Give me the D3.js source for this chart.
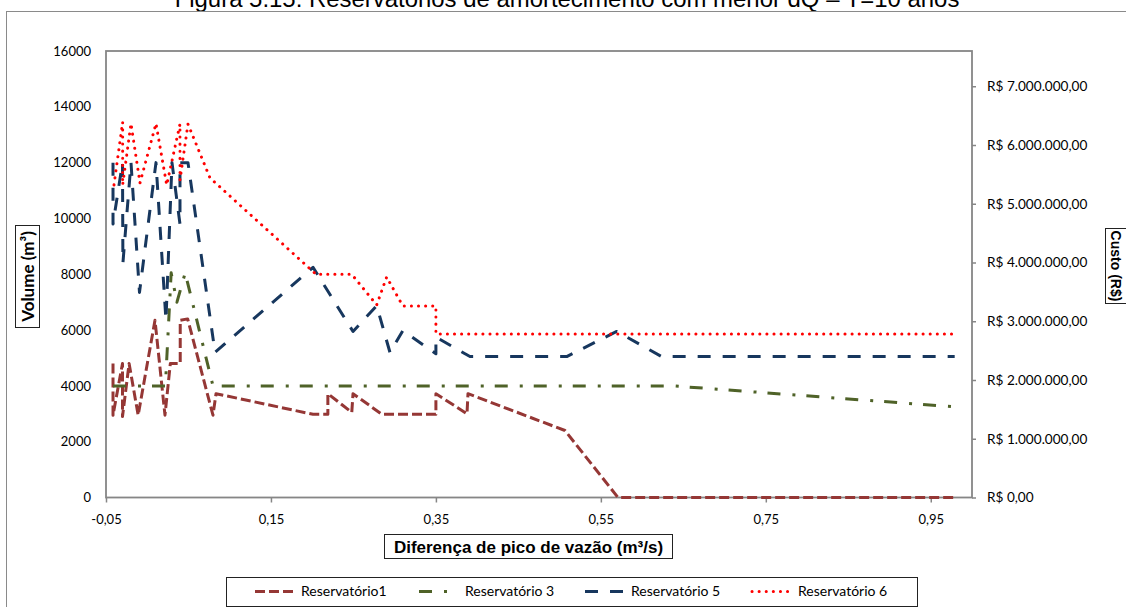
<!DOCTYPE html>
<html>
<head>
<meta charset="utf-8">
<script src="https://cdn.jsdelivr.net/npm/d3@7"></script>
<style>
  body { margin: 0; background: #fff; }
  .tick text { font-family: Lato, "Open Sans", sans-serif; font-size: 13px; fill: #000; }
  .cost .tick text { font-size: 13.6px; }
</style>
</head>
<body>
<div id="chart"></div>
<script>
// ---- data ----
var xTicks = [-0.05, 0.15, 0.35, 0.55, 0.75, 0.95];
var yTicks = [0, 2000, 4000, 6000, 8000, 10000, 12000, 14000, 16000];
var costTicks = [0, 1000000, 2000000, 3000000, 4000000, 5000000, 6000000, 7000000];

var seriesNames = ["Reservatório1", "Reservatório 3", "Reservatório 5", "Reservatório 6"];

var res1X = [-0.0415, -0.0415, -0.030, -0.030, -0.022, -0.011, 0.0094, 0.0215, 0.028, 0.040, 0.040, 0.049, 0.0797, 0.0834, 0.201, 0.219, 0.219, 0.248, 0.2495, 0.2846, 0.35, 0.35, 0.3877, 0.3889, 0.5065, 0.5708, 0.978];
var res1Y = [4800, 2950, 4800, 2900, 4800, 2950, 6350, 2950, 4800, 4800, 6350, 6400, 2950, 3720, 2980, 2980, 3720, 3050, 3720, 2980, 2980, 3720, 3000, 3720, 2400, 0, 0];

var res3X = [-0.0415, 0.022, 0.029, 0.036, 0.046, 0.0797, 0.637, 0.978];
var res3Y = [4000, 4000, 8050, 7000, 8050, 4000, 4000, 3250];

var res5X = [-0.0415, -0.0415, -0.030, -0.0295, -0.0197, -0.0094, 0.0106, 0.0227, 0.030, 0.0397, 0.0397, 0.0494, 0.0822, 0.201, 0.2495, 0.2782, 0.2943, 0.31, 0.35, 0.35, 0.3913, 0.5086, 0.5692, 0.6237, 0.979];
var res5Y = [12000, 9800, 12000, 8400, 12000, 7350, 12000, 6350, 12000, 9800, 12000, 12000, 5200, 8250, 5950, 6870, 5200, 5980, 5150, 5750, 5050, 5050, 5950, 5050, 5050];

var res6X = [-0.0403, -0.0298, -0.0298, -0.0197, -0.0088, 0.0106, 0.0236, 0.0397, 0.0397, 0.0494, 0.0761, 0.2046, 0.2479, 0.2782, 0.2903, 0.31, 0.35, 0.35, 0.979];
var res6Y = [11200, 13450, 11200, 13400, 11270, 13400, 11200, 13380, 11380, 13380, 11450, 8000, 8000, 6900, 7900, 6860, 6860, 5860, 5860];

// ---- layout ----
var W = 1126, H = 607;
var plot = {left: 106, right: 972, top: 51, bottom: 497.5};

var svg = d3.select("#chart")
  .append("svg")
    .attr("width", W)
    .attr("height", H);

// pt-BR style numbers
var br = d3.formatLocale({decimal: ",", thousands: ".", grouping: [3], currency: ["R$ ", ""], minus: "-"});

var x = d3.scaleLinear().domain([-0.05, 1.0]).range([plot.left, plot.right]);
var y = d3.scaleLinear().domain([0, 16000]).range([plot.bottom, plot.top]);
var yCost = d3.scaleLinear().domain([0, 7600000]).range([plot.bottom, plot.top]);

// title (cut off at the top edge, as in the source figure)
var title = svg.append("text")
    .attr("x", 567)
    .attr("y", 6.5)
    .attr("text-anchor", "middle")
    .style("font-family", "'Liberation Sans', Arial, sans-serif")
    .style("font-size", "20px")
    .text("Figura 5.15: Reservatórios de amortecimento com menor dQ – T=10 anos");
var tw = title.node().getComputedTextLength();
title.style("font-size", (20 * 785 / tw) + "px");

// chart area border
svg.append("rect")
    .attr("x", 6.5).attr("y", 11.5)
    .attr("width", 1200).attr("height", 700)
    .attr("fill", "none")
    .attr("stroke", "#8a8a8a")
    .attr("stroke-width", 1);

// axes
svg.append("g")
    .attr("transform", "translate(" + plot.left + ",0)")
    .call(d3.axisLeft(y).tickValues(yTicks).tickSize(0).tickPadding(15).tickFormat(d3.format("d")));

svg.append("g")
    .attr("transform", "translate(0," + plot.bottom + ")")
    .call(d3.axisBottom(x).tickValues(xTicks).tickSize(5).tickPadding(12).tickFormat(br.format(".2f")));

svg.append("g")
    .attr("class", "cost")
    .attr("transform", "translate(" + plot.right + ",0)")
    .call(d3.axisRight(yCost).tickValues(costTicks).tickSize(4).tickPadding(11).tickFormat(br.format("$,.2f")));

svg.selectAll(".domain").remove();
svg.selectAll(".tick line").attr("stroke", "#868686").attr("stroke-width", 1.5);

// plot area frame
svg.append("rect")
    .attr("x", plot.left).attr("y", plot.top)
    .attr("width", plot.right - plot.left).attr("height", plot.bottom - plot.top)
    .attr("fill", "none")
    .attr("stroke", "#868686")
    .attr("stroke-width", 1.8);

// series
var styles = [
  {color: "#953735", dash: "10,4", cap: "butt"},
  {color: "#4F6228", dash: "13,12,3,11", cap: "butt"},
  {color: "#17375E", dash: "13,12", cap: "butt"},
  {color: "#FF0000", dash: "0.1,7", cap: "round"}
];
var seriesX = [res1X, res3X, res5X, res6X];
var seriesY = [res1Y, res3Y, res5Y, res6Y];

var line = d3.line()
  .x(function(d) { return x(d[0]) })
  .y(function(d) { return y(d[1]) });

seriesX.forEach(function(xs, i) {
  var pts = xs.map(function(v, j) { return [v, seriesY[i][j]] });
  svg.append("path")
    .datum(pts)
    .attr("fill", "none")
    .attr("stroke", styles[i].color)
    .attr("stroke-width", 3)
    .attr("stroke-dasharray", styles[i].dash)
    .attr("stroke-linecap", styles[i].cap)
    .attr("stroke-linejoin", "round")
    .attr("d", line);
});

// axis titles with boxes
svg.append("rect")
    .attr("x", 15.5).attr("y", 225.5).attr("width", 24).attr("height", 102)
    .attr("fill", "#fff").attr("stroke", "#222");
svg.append("text")
    .attr("transform", "translate(28,276.5) rotate(-90)")
    .attr("text-anchor", "middle")
    .attr("dy", "0.35em")
    .style("font-family", "Lato, sans-serif")
    .style("font-weight", "bold")
    .style("font-size", "17px")
    .text("Volume (m³)");

svg.append("rect")
    .attr("x", 384.5).attr("y", 534.5).attr("width", 288).attr("height", 24)
    .attr("fill", "#fff").attr("stroke", "#222");
svg.append("text")
    .attr("x", 528.5).attr("y", 552.5)
    .attr("text-anchor", "middle")
    .style("font-family", "'Liberation Sans', Arial, sans-serif")
    .style("font-weight", "bold")
    .style("font-size", "17px")
    .text("Diferença de pico de vazão (m³/s)");

svg.append("rect")
    .attr("x", 1105.5).attr("y", 228.5).attr("width", 25).attr("height", 75)
    .attr("fill", "#fff").attr("stroke", "#222");
svg.append("text")
    .attr("transform", "translate(1116,266) rotate(90)")
    .attr("text-anchor", "middle")
    .attr("dy", "0.35em")
    .style("font-family", "'Liberation Sans', Arial, sans-serif")
    .style("font-weight", "bold")
    .style("font-size", "14px")
    .text("Custo (R$)");

// legend
svg.append("rect")
    .attr("x", 226.5).attr("y", 577.5).attr("width", 691).attr("height", 29)
    .attr("fill", "#fff").attr("stroke", "#222");

var legendX = [255, 419, 585, 752];
var legend = svg.append("g")
  .selectAll("g")
  .data(seriesNames)
  .enter()
  .append("g")
    .attr("transform", function(d, i) { return "translate(" + legendX[i] + ",591.5)" });

legend.append("line")
    .attr("x1", 0).attr("x2", 39)
    .attr("stroke", function(d, i) { return styles[i].color })
    .attr("stroke-width", 3)
    .attr("stroke-dasharray", function(d, i) { return styles[i].dash })
    .attr("stroke-linecap", function(d, i) { return styles[i].cap });

legend.append("text")
    .attr("x", 46)
    .attr("dy", "0.35em")
    .style("font-family", "Lato, sans-serif")
    .style("font-size", "14px")
    .text(function(d) { return d });
</script>
</body>
</html>
